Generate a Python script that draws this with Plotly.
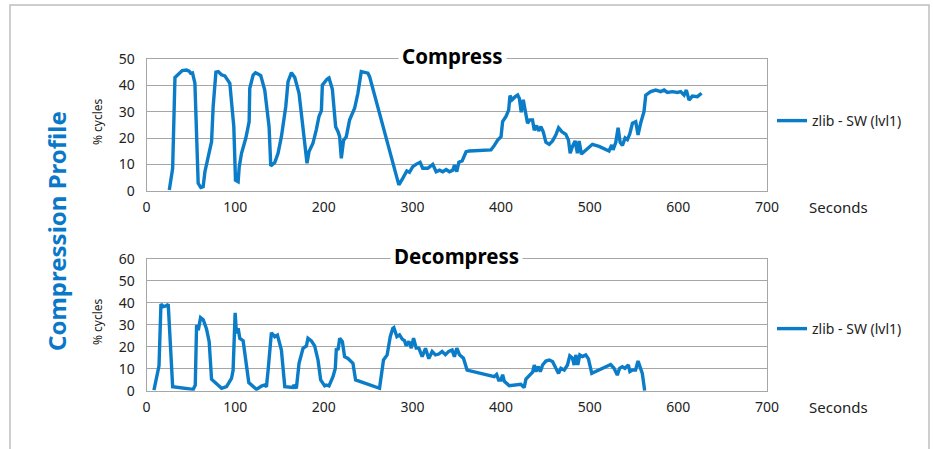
import plotly.graph_objects as go

W, H = 933, 449

# ---------------- data ----------------
compress_t = [25.6, 29.4, 32, 35.7, 40.2, 45, 48, 49.6, 51.8, 54.5,
              58.2, 61.2, 63.8, 65.8, 69.5, 73.3, 75.1, 78.2, 80.8, 84.5,
              88.3, 93.9, 98.4, 100.3, 103.3, 104.5, 107.1, 111.9, 115.7, 116.4,
              120.2, 122.8, 125.8, 128.8, 133.3, 138.2, 140.1, 144.6, 148.3, 152.1,
              157, 159.6, 163.4, 167.2, 172, 177.3, 181, 183.3, 187.7, 191.5,
              194.5, 197.2, 198.3, 203.5, 205.8, 209.6, 213.3, 216, 217.8, 219.7,
              222.3, 225.3, 229, 234.7, 238.4, 242.2, 246, 249.7, 251.6, 284.6,
              289, 293.6, 296.6, 300.3, 304, 308.6, 311.6, 317.2, 322.9, 326.7,
              330.5, 334.2, 338, 341.7, 345.5, 347.4, 350, 352.3, 356, 360.5,
              364.2, 388.6, 392.4, 396.1, 399.9, 401.7, 405.5, 408.5, 410, 412.3,
              416, 418.7, 420.6, 422.7, 425, 427.2, 429.8, 432.4, 435.4, 437.4,
              440, 442.3, 444.9, 447.5, 450.5, 454.3, 458, 461.8, 464.8, 468.5,
              473, 476, 477.9, 480.5, 483.5, 486.1, 488, 490.6, 493.6, 497.4,
              503, 510.5, 518, 521.8, 524.8, 526.3, 529.4, 532, 534.3, 536.9,
              539.9, 542.5, 545.2, 548.2, 551.9, 554.5, 557.4, 561.2, 563.2, 568.8,
              574.5, 580.1, 583.9, 587.6, 593.3, 598.9, 602.6, 606.4, 609, 612,
              615.8, 621.4, 626.2]
compress_pct = [0.3, 8.5, 43, 44, 45.6, 45.8, 45.4, 44.6, 44.7, 40.8,
                2.8, 1.2, 1.5, 7.2, 13.5, 18.6, 31.9, 45, 45.2, 44,
                43.6, 40.8, 24.3, 4, 3.4, 9, 14.2, 19.9, 26.2, 38.9,
                43.9, 44.8, 44.3, 43.7, 38.2, 24.3, 9.4, 10.7, 14.2, 20.5,
                31.9, 41.4, 44.8, 43, 37, 20.5, 10.4, 14.9, 18, 23.2,
                28.2, 30.4, 40.1, 42.3, 42.8, 38.5, 24.3, 22.4, 20.5, 12.3,
                19.2, 20.5, 26.8, 31.3, 37, 45.2, 45, 44.6, 43.3, 2.2,
                4.7, 7.5, 7.0, 9.1, 10, 10.8, 8.5, 8.5, 10, 7.2,
                7.8, 7.2, 8, 7.2, 7.8, 9.7, 7.2, 10.8, 11.3, 14.8,
                15.1, 15.5, 17.2, 19.2, 20.5, 26.2, 28.2, 30.6, 36.1, 34.5,
                35.7, 36.3, 35, 29.8, 34.5, 30, 25.6, 26.9, 26.9, 23,
                24.7, 22.7, 24.3, 22.4, 18.4, 17.6, 18.9, 21.2, 23.9, 22.4,
                21.4, 19.2, 14.2, 16.8, 18.9, 14.2, 18.9, 13.9, 14.8, 16,
                17.6, 16.8, 15.8, 15.1, 17.4, 15.5, 18.4, 23.9, 18.4, 17.2,
                20, 19.4, 21.6, 25.6, 26.2, 21.2, 25.6, 30, 36.3, 37.6,
                38.2, 37.6, 38.2, 37.3, 37.6, 37.3, 37.6, 36.3, 38.2, 34.4,
                35.9, 35.7, 37]

decompress_t = [8.3, 14, 16.2, 18.8, 21.8, 24.4, 29.4, 52.6, 54.9, 56.4,
                58.3, 60.9, 63.9, 67.6, 70.6, 73.3, 84.6, 90.2, 95.8, 97.6,
                99.9, 101.4, 103.3, 105.2, 108.9, 112.7, 115.3, 124, 129.6, 133.3,
                135.2, 137.1, 139, 140.8, 144.6, 147.6, 152.1, 155.9, 165.2, 166,
                169, 172, 176.5, 180.3, 182.1, 185.9, 189.6, 193.4, 196.4, 200.9,
                202.7, 205.8, 210.3, 212.9, 214.1, 216, 217.9, 220.9, 223.4, 227.2,
                232.8, 235.8, 262.8, 267.3, 271.4, 274.9, 277.8, 279, 282.4, 285.4,
                288.4, 291, 292.9, 295.9, 298.6, 301.2, 304.2, 307.2, 310.9, 314.7,
                318.4, 322.2, 325.9, 329.7, 333.4, 337.2, 340.9, 344.7, 347.3, 350,
                353, 357.5, 361.6, 392.3, 394.9, 397.2, 399.8, 401.7, 403.6, 409.2,
                422.3, 426, 428, 431.8, 435.5, 437.4, 439.3, 441.9, 444.2, 446.8,
                450.5, 454.3, 458, 461.8, 464.8, 467.4, 471.2, 474.9, 477.5, 480.5,
                482.4, 484.3, 486.5, 488.8, 491.8, 495.5, 498.5, 502.3, 510.5, 518,
                523.6, 527.4, 531.1, 533.7, 536.7, 539.7, 543.5, 545.3, 547.9, 551.7,
                554.5, 559.3, 562]
decompress_pct = [0.3, 11.3, 39.5, 38.3, 38.6, 39.3, 1.8, 0.6, 2.6, 29.9,
                  27.6, 33.3, 32.3, 28.1, 22.3, 5.2, 1.1, 1.9, 5.6, 9.3,
                  35.5, 26.1, 28.4, 23.8, 22.8, 12.5, 3.7, 0.6, 2.1, 2.6,
                  1.8, 9.4, 18.5, 26.4, 24.6, 25.3, 18.5, 1.8, 1.5, 2.6,
                  1.1, 12.5, 19.3, 20.4, 23.9, 22.7, 20.4, 14, 4.9, 2.2,
                  2.6, 2.2, 6.4, 10.1, 19.3, 18.5, 23.9, 22.3, 15.5, 14.7,
                  12.5, 4.9, 1.1, 14, 16.3, 24.6, 28.4, 28.7, 24.6, 25.4,
                  23.5, 22.8, 20.5, 22.5, 19.4, 23.9, 19.4, 19.4, 15.5, 19.3,
                  14.6, 17.9, 16.3, 16.7, 17.9, 16.4, 17.9, 18.5, 15.5, 19.4,
                  16.4, 14.8, 9.4, 6.4, 7.4, 4.9, 4.9, 7.3, 4.3, 2.3,
                  2.9, 1.4, 5.3, 7.1, 8.4, 11.7, 8.7, 11, 8.7, 11.7,
                  13.5, 14, 13.3, 10.2, 7.9, 10.2, 9.4, 11.7, 15.9, 14.8,
                  11.7, 16.3, 11.7, 16.3, 15.6, 16.3, 14.5, 7.9, 9.4, 10.9,
                  11.9, 10.2, 7.1, 10.2, 10.9, 10.2, 11.7, 8.7, 9.4, 9.4,
                  13.5, 7.9, 0]

series_name = "zlib - SW (lvl1)"
x_ticks = [0, 100, 200, 300, 400, 500, 600, 700]

# ---------------- styling ----------------
BLUE = "#0B7DC8"
GRID = "#A6A6A6"
FONT = "Noto Sans"


def px_x(p):
    return p / W


def px_y(p):
    return 1 - p / H


x_dom = [px_x(146.6), px_x(767)]

fig = go.Figure()
fig.add_trace(go.Scatter(x=compress_t, y=compress_pct, mode="lines", name=series_name,
                         line=dict(color=BLUE, width=3.4), xaxis="x", yaxis="y",
                         legend="legend"))
fig.add_trace(go.Scatter(x=decompress_t, y=decompress_pct, mode="lines", name=series_name,
                         line=dict(color=BLUE, width=3.4), xaxis="x2", yaxis="y2",
                         legend="legend2"))

axis_common = dict(showline=True, mirror=True, linecolor=GRID, linewidth=1,
                   tickfont=dict(family=FONT, size=14, color="#222"),
                   zeroline=False, fixedrange=True, automargin=False)

fig.update_layout(
    width=W, height=H, autosize=False,
    margin=dict(l=0, r=0, t=0, b=0, pad=0, autoexpand=False),
    paper_bgcolor="white", plot_bgcolor="white",
    font=dict(family=FONT, color="#222"),
    xaxis=dict(domain=x_dom, range=[0, 700], tickvals=x_ticks, showgrid=False,
               anchor="y", ticks="", ticklabelstandoff=3, **axis_common),
    yaxis=dict(domain=[px_y(190.7), px_y(59)], range=[0, 50], dtick=10,
               showgrid=True, gridcolor=GRID, gridwidth=1, anchor="x",
               ticks="", ticklabelstandoff=8, **axis_common),
    xaxis2=dict(domain=x_dom, range=[0, 700], tickvals=x_ticks, showgrid=False,
                anchor="y2", ticks="", ticklabelstandoff=3, **axis_common),
    yaxis2=dict(domain=[px_y(390.7), px_y(259)], range=[0, 60], dtick=10,
                showgrid=True, gridcolor=GRID, gridwidth=1, anchor="x2",
                ticks="", ticklabelstandoff=8, **axis_common),
    legend=dict(x=px_x(772), y=px_y(121), xanchor="left", yanchor="middle",
                itemwidth=30, font=dict(family=FONT, size=14, color="#222"),
                bgcolor="rgba(0,0,0,0)", tracegroupgap=0),
    legend2=dict(x=px_x(772), y=px_y(329), xanchor="left", yanchor="middle",
                 itemwidth=30, font=dict(family=FONT, size=14, color="#222"),
                 bgcolor="rgba(0,0,0,0)", tracegroupgap=0),
    showlegend=True,
)

annotations = [
    dict(text="<b>Compress</b>", x=px_x(452), y=px_y(56), xref="paper", yref="paper",
         showarrow=False, font=dict(family=FONT, size=20.5, color="black"),
         bgcolor="white", borderpad=3, xanchor="center", yanchor="middle"),
    dict(text="<b>Decompress</b>", x=px_x(456), y=px_y(256), xref="paper", yref="paper",
         showarrow=False, font=dict(family=FONT, size=20.5, color="black"),
         bgcolor="white", borderpad=3, xanchor="center", yanchor="middle"),
    dict(text="% cycles", x=px_x(97), y=px_y(122), xref="paper", yref="paper",
         showarrow=False, textangle=-90, font=dict(family=FONT, size=12, color="#222"),
         xanchor="center", yanchor="middle"),
    dict(text="% cycles", x=px_x(97), y=px_y(322), xref="paper", yref="paper",
         showarrow=False, textangle=-90, font=dict(family=FONT, size=12, color="#222"),
         xanchor="center", yanchor="middle"),
    dict(text="Seconds", x=px_x(807), y=px_y(207), xref="paper", yref="paper",
         showarrow=False, font=dict(family=FONT, size=15, color="#222"),
         xanchor="left", yanchor="middle"),
    dict(text="Seconds", x=px_x(807), y=px_y(407), xref="paper", yref="paper",
         showarrow=False, font=dict(family=FONT, size=15, color="#222"),
         xanchor="left", yanchor="middle"),
    dict(text="<b>Compression Profile</b>", x=px_x(57), y=px_y(231), xref="paper",
         yref="paper", showarrow=False, textangle=-90,
         font=dict(family=FONT, size=24, color="#0A78C8"),
         xanchor="center", yanchor="middle"),
]
fig.update_layout(annotations=annotations)

fig.add_shape(type="rect", xref="paper", yref="paper",
              x0=px_x(10), x1=px_x(929), y0=px_y(470), y1=px_y(5),
              line=dict(color="#BFBFBF", width=1.5), fillcolor="rgba(0,0,0,0)",
              layer="below")

fig.write_html(
    "out.html",
    config={"displayModeBar": False},
    post_script="document.body.style.margin='0';document.body.style.overflow='hidden';",
)
